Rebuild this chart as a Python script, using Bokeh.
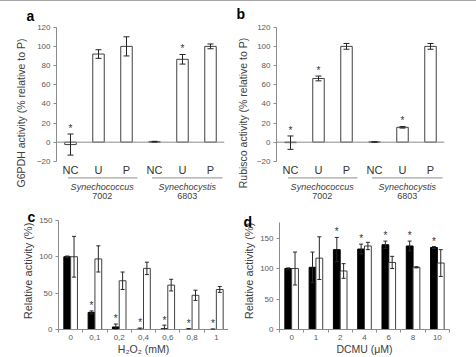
from bokeh.plotting import figure
from bokeh.models import Range1d, FixedTicker, Span, ColumnDataSource, Whisker, TeeHead, Div
from bokeh.layouts import column, row
from bokeh.embed import file_html
from bokeh.resources import INLINE
from bokeh.core.properties import value

# ---------------- data ----------------
cats_ab = ["NC", "U", "P", "NC", "U", "P"]
group_names = ["Synechococcus", "Synechocystis"]
group_nums = ["7002", "6803"]

g6pdh = [-2.5, 92, 100, 0.5, 86.5, 100]
g6pdh_err = [11, 4.5, 10, 0.4, 5, 2.5]
g6pdh_sig = [True, False, False, False, True, False]

rubisco = [-0.5, 66.5, 100, 0.2, 15.5, 100]
rubisco_err = [7, 2.5, 3, 0.3, 0.8, 3]
rubisco_sig = [True, True, False, False, True, False]

h2o2_labels = ["0", "0,1", "0,2", "0,4", "0,6", "0,8", "1"]
h2o2_black = [100, 23.5, 3.5, 0.5, 1, 0.3, 0.2]
h2o2_black_err = [1, 2, 4, 1.5, 5, 1, 0.5]
h2o2_white = [100, 97, 67, 84, 61, 47, 55]
h2o2_white_err = [28, 18, 12, 8.5, 8, 7, 4]
h2o2_sig = [False, True, True, True, True, True, True]

dcmu_labels = ["0", "1", "2", "4", "6", "8", "10"]
dcmu_black = [100, 102, 131, 132, 139, 137, 134.5]
dcmu_black_err = [1, 25, 20, 8, 6, 8, 1.5]
dcmu_white = [100, 117, 96, 137, 110, 102, 109]
dcmu_white_err = [27, 35, 12, 6, 10, 1, 22]
dcmu_sig = [False, False, True, True, True, True, True]

# ---------------- style ----------------
FONT = "Liberation Sans"
AX = "#8c8c8c"
TICK_TXT = "#595959"
LAB_TXT = "#404040"
EDGE = "#404040"
ERR = "#262626"


def base_fig(width, height, bl, br, bt, bb, xr, yr, x_axis=True):
    kw = dict(width=width, height=height, min_border_left=bl, min_border_right=br,
              min_border_top=bt, min_border_bottom=bb, x_range=xr, y_range=yr,
              output_backend="svg", toolbar_location=None, tools="")
    if not x_axis:
        kw["x_axis_location"] = None
    p = figure(**kw)
    p.grid.visible = False
    p.outline_line_color = None
    p.background_fill_color = "white"
    p.border_fill_color = "white"
    return p


def style_y(p, ticks, bounds, label, size, standoff):
    ax = p.yaxis[0]
    ax.ticker = FixedTicker(ticks=ticks)
    ax.bounds = bounds
    ax.axis_label = label
    ax.axis_label_text_font = FONT
    ax.axis_label_text_font_size = size
    ax.axis_label_text_font_style = "normal"
    ax.axis_label_text_color = LAB_TXT
    ax.axis_label_standoff = standoff
    ax.axis_line_color = AX
    ax.major_tick_line_color = AX
    ax.major_tick_out = 3
    ax.major_tick_in = 0
    ax.minor_tick_line_color = None
    ax.major_label_text_font = FONT
    ax.major_label_text_font_size = "8px"
    ax.major_label_text_color = TICK_TXT
    ax.major_label_standoff = 3


def errbars(p, xs, vals, errs, head):
    src = ColumnDataSource(dict(x=xs, upper=[v + e for v, e in zip(vals, errs)],
                                lower=[v - e for v, e in zip(vals, errs)]))
    w = Whisker(base="x", upper="upper", lower="lower", source=src, level="overlay",
                line_color=ERR, line_width=1,
                upper_head=TeeHead(size=head, line_color=ERR, line_width=1),
                lower_head=TeeHead(size=head, line_color=ERR, line_width=1))
    p.add_layout(w)


def stars(p, xs, vals, errs, sig, gap, size):
    sx = [x for x, s in zip(xs, sig) if s]
    sy = [v + e + gap for v, e, s in zip(vals, errs, sig) if s]
    p.text(x=sx, y=sy, text=["*"] * len(sx), text_align="center", text_baseline="middle",
           text_font=value(FONT), text_font_size=size, text_color="#333333")


def letter(p, t, offset, standoff):
    p.title.text = t
    p.title.align = "left"
    p.title.offset = offset
    p.title.standoff = standoff
    p.title.text_font = FONT
    p.title.text_font_size = "14px"
    p.title.text_font_style = "bold"
    p.title.text_color = "black"


def panel_ab(vals, errs, sig, ylabel, let, width, bl, br, let_off, let_so, lab_so):
    p = base_fig(width, 204, bl, br, 19, 0, Range1d(-0.5, 5.5), Range1d(-66.1, 127.0), x_axis=False)
    letter(p, let, let_off, let_so)
    style_y(p, [-20, 0, 20, 40, 60, 80, 100, 120], (-20, 120), ylabel, "10.5px", lab_so)
    p.add_layout(Span(location=0, dimension="width", line_color=AX, line_width=1))
    xs = list(range(len(vals)))
    p.vbar(x=xs, top=vals, bottom=0, width=0.41, fill_color="white",
           line_color=EDGE, line_width=1)
    errbars(p, xs, vals, errs, 6)
    stars(p, xs, vals, errs, sig, 6, "10px")
    # category labels
    p.text(x=xs, y=[-29.5] * len(xs), text=cats_ab, text_align="center",
           text_baseline="middle", text_font=value(FONT), text_font_size="11px",
           text_color="#333333")
    # group underlines and names
    p.segment(x0=[-0.09, 2.91], y0=[-37.3, -37.3], x1=[2.39, 5.43], y1=[-37.3, -37.3],
              line_color=AX, line_width=1)
    p.text(x=[1.13, 4.17], y=[-46.8, -46.8], text=group_names, text_align="center",
           text_baseline="middle", text_font=value(FONT), text_font_size="9px",
           text_font_style="italic", text_color=LAB_TXT)
    p.text(x=[1.13, 4.17], y=[-56.4, -56.4], text=group_nums, text_align="center",
           text_baseline="middle", text_font=value(FONT), text_font_size="9px",
           text_color=LAB_TXT)
    return p


def panel_cd(labels, black, berr, white, werr, sig, xlabel, let, width, bl, br, ytop,
             bounds, ticks, gap, let_off, let_standoff):
    p = base_fig(width, 152, bl, br, 7, 26, Range1d(-0.5, 6.5), Range1d(0, ytop))
    letter(p, let, let_off, let_standoff)
    style_y(p, ticks, bounds, "Relative activity (%)", "11px", 2)
    xa = p.xaxis[0]
    n = len(labels)
    xa.ticker = FixedTicker(ticks=list(range(n)), minor_ticks=[i - 0.5 for i in range(n + 1)])
    xa.major_label_overrides = {i: lab for i, lab in enumerate(labels)}
    xa.axis_line_color = AX
    xa.major_tick_out = 0
    xa.major_tick_in = 0
    xa.minor_tick_out = 3
    xa.minor_tick_in = 0
    xa.minor_tick_line_color = AX
    xa.major_label_text_font = FONT
    xa.major_label_text_font_size = "8px"
    xa.major_label_text_color = TICK_TXT
    xa.major_label_standoff = 2
    xa.axis_label = xlabel
    xa.axis_label_text_font = FONT
    xa.axis_label_text_font_size = "10.5px"
    xa.axis_label_text_font_style = "normal"
    xa.axis_label_text_color = LAB_TXT
    xa.axis_label_standoff = 0
    xs = list(range(n))
    xb = [x - 0.14 for x in xs]
    xw = [x + 0.14 for x in xs]
    p.vbar(x=xb, top=black, bottom=0, width=0.28, fill_color="black",
           line_color="black", line_width=1)
    p.vbar(x=xw, top=white, bottom=0, width=0.28, fill_color="white",
           line_color=EDGE, line_width=1)
    errbars(p, xb, black, berr, 4)
    errbars(p, xw, white, werr, 4)
    stars(p, xb, black, berr, sig, gap, "10px")
    return p


pa = panel_ab(g6pdh, g6pdh_err, g6pdh_sig, "G6PDH activity (% relative to P)", "a",
              228, 56, 4, -30, -7, 7)
pb = panel_ab(rubisco, rubisco_err, rubisco_sig, "Rubisco activity (% relative to P)", "b",
              248, 48, 32, -40, -3, 5)
pc = panel_cd(h2o2_labels, h2o2_black, h2o2_black_err, h2o2_white, h2o2_white_err, h2o2_sig,
              "H\u2082O\u2082 (mM)", "c", 228, 58, 0, 160.8, (0, 150), [0, 50, 100, 150], 7,
              -31, -24)
pd = panel_cd(dcmu_labels, dcmu_black, dcmu_black_err, dcmu_white, dcmu_white_err, dcmu_sig,
              "DCMU (\u03bcM)", "d", 248, 51, 27, 191.9, (0, 175), [0, 50, 100, 150], 9,
              -36, -34)

topline = Div(text="", width=476, height=1, margin=0,
              styles={"border-top": "1px solid #a6a6a6", "box-sizing": "border-box"})
layout = column(topline, row(pa, pb), row(pc, pd))
open("out.html", "w").write(file_html(layout, INLINE))
